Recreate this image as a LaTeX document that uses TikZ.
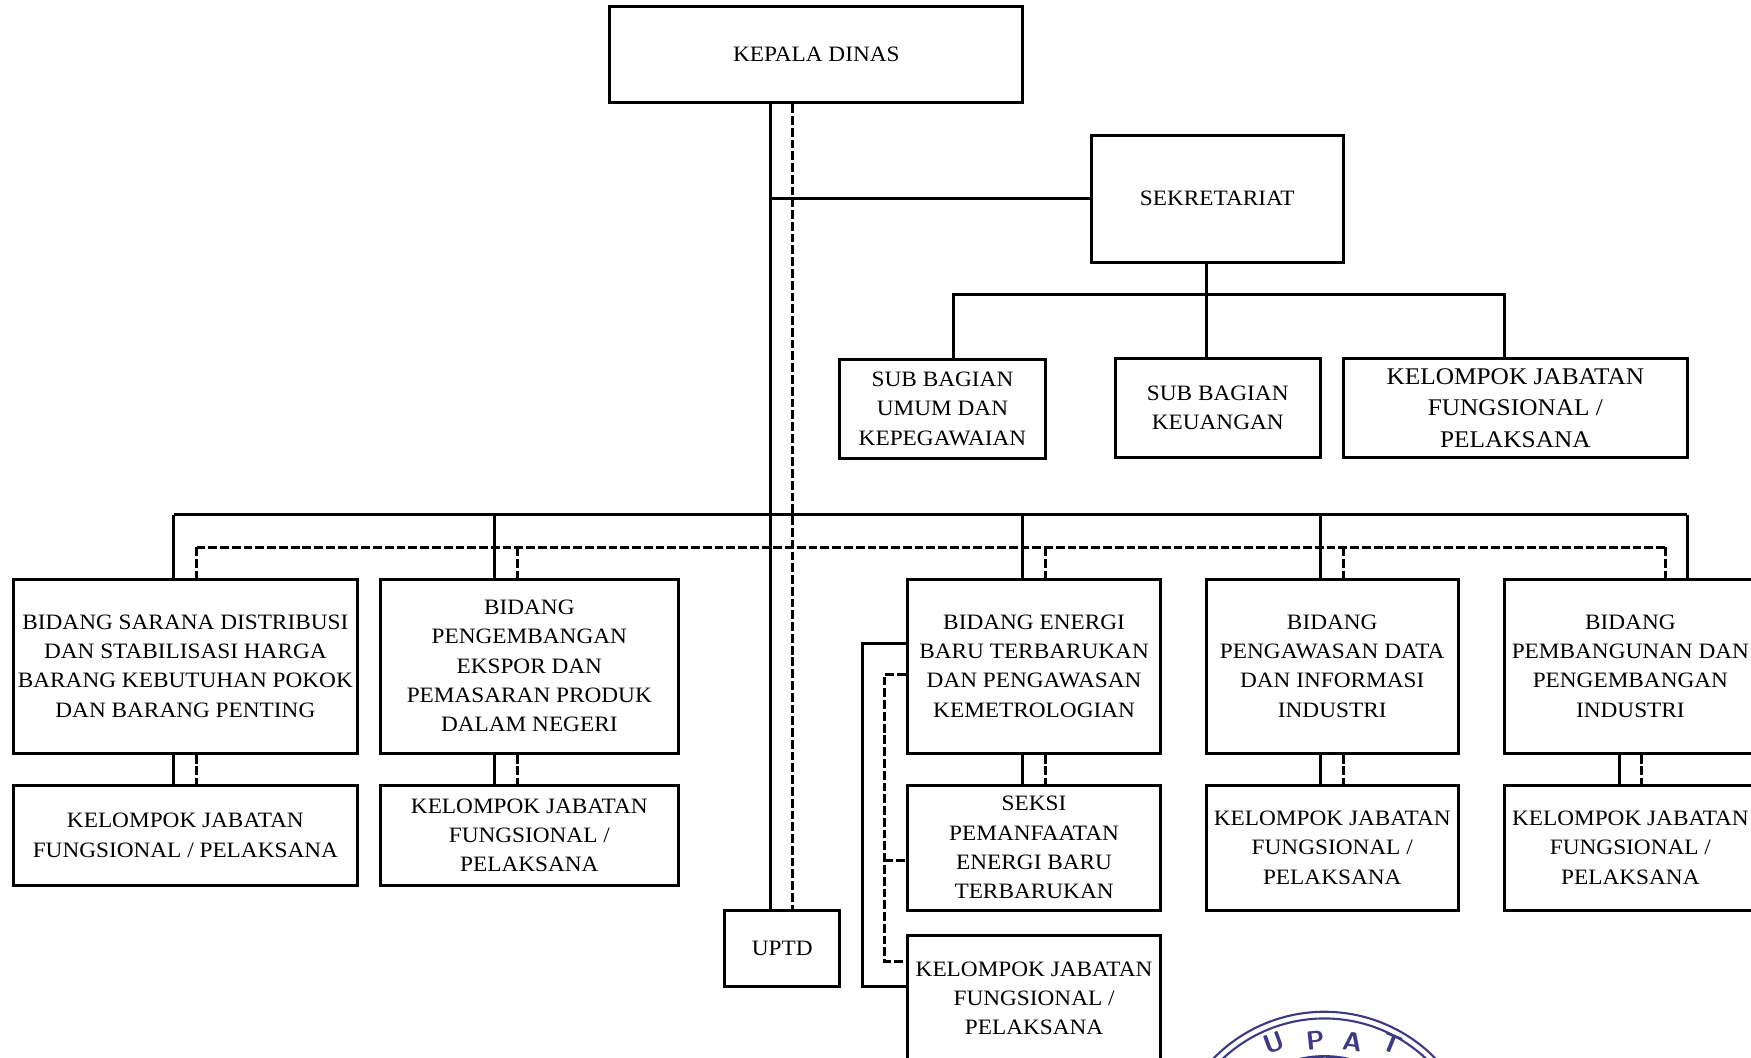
\documentclass[tikz,border=0pt]{standalone}
\usepackage{fontspec}
\setmainfont[FakeStretch=1.06]{Liberation Serif}
\usetikzlibrary{calc}
\definecolor{stempel}{HTML}{3B3A86}
\newcommand{\satuan}{0.022334cm}
\tikzset{
	kotak/.style 2 args = {
		draw, line width=1.7pt, inner sep=0pt, align=center,
		minimum width=#1*\satuan, minimum height=#2*\satuan,
		font=\fontsize{12.5}{16.7}\selectfont
	},
	garis/.style = {line width=1.7pt},
	putus/.style = {line width=1.7pt, dash pattern=on 5pt off 1.7pt},
	huruf/.style = {inner sep=0pt, font=\fontsize{15}{15}\sffamily\bfseries\selectfont},
}

\begin{document}
\begin{tikzpicture}[x=\satuan, y=-\satuan]
	\path[use as bounding box, clip] (0,0) rectangle (1568,947);
	% ====== Pimpinan ========
	\node[kotak={370}{86}] (kadis) at (731,49) {KEPALA DINAS};
	\node[kotak={226}{114}] (sekre) at (1090,178) {SEKRETARIAT};
	\node[kotak={184}{89}] (subum) at (844,366) {SUB BAGIAN\\UMUM DAN\\KEPEGAWAIAN};
	\node[kotak={184}{89}] (subku) at (1090.5,365.5) {SUB BAGIAN\\KEUANGAN};
	\node[kotak={308}{89}, font=\fontsize{13.6}{17.8}\selectfont] (ksek) at (1357,365.5) {KELOMPOK JABATAN\\FUNGSIONAL /\\PELAKSANA};
	\node[kotak={103}{68}] (uptd) at (700.5,849) {UPTD};
	% ====== Bidang ========
	\node[kotak={308}{156}] (bsd) at (166,596.5) {BIDANG SARANA DISTRIBUSI\\DAN STABILISASI HARGA\\BARANG KEBUTUHAN POKOK\\DAN BARANG PENTING};
	\node[kotak={267}{156}] (bpe) at (474,596.5) {BIDANG\\PENGEMBANGAN\\EKSPOR DAN\\PEMASARAN PRODUK\\DALAM NEGERI};
	\node[kotak={227}{156}] (bet) at (926,596.5) {BIDANG ENERGI\\BARU TERBARUKAN\\DAN PENGAWASAN\\KEMETROLOGIAN};
	\node[kotak={226}{156}] (bpd) at (1193,596.5) {BIDANG\\PENGAWASAN DATA\\DAN INFORMASI\\INDUSTRI};
	\node[kotak={226}{156}] (bpp) at (1460,596.5) {BIDANG\\PEMBANGUNAN DAN\\PENGEMBANGAN\\INDUSTRI};
	% ====== Kelompok ========
	\node[kotak={308}{90}] (ksd) at (166,748) {KELOMPOK JABATAN\\FUNGSIONAL / PELAKSANA};
	\node[kotak={267}{90}] (kpe) at (474,748) {KELOMPOK JABATAN\\FUNGSIONAL /\\PELAKSANA};
	\node[kotak={227}{112}] (sek) at (926,759) {SEKSI\\PEMANFAATAN\\ENERGI BARU\\TERBARUKAN};
	\node[kotak={226}{112}] (kpd) at (1193,759) {KELOMPOK JABATAN\\FUNGSIONAL /\\PELAKSANA};
	\node[kotak={226}{112}] (kpp) at (1460,759) {KELOMPOK JABATAN\\FUNGSIONAL /\\PELAKSANA};
	\node[kotak={227}{112}] (ket) at (926,894) {KELOMPOK JABATAN\\FUNGSIONAL /\\PELAKSANA};
	% ====== Titik ========
	\coordinate (A) at (690,178);
	\coordinate (B) at (710,178);
	\coordinate (C) at (1080,264);
	\coordinate (S1) at (155.5,461);
	\coordinate (S2) at (443,461);
	\coordinate (S3) at (915.5,461);
	\coordinate (S4) at (1182.5,461);
	\coordinate (S5) at (1511,461);
	\coordinate (D1) at (176,490);
	\coordinate (D2) at (463.5,490);
	\coordinate (D3) at (936,490);
	\coordinate (D4) at (1203,490);
	\coordinate (D5) at (1491,490);
	\coordinate (T1) at (854,264);
	\coordinate (T2) at (1347,264);
	\coordinate (P1) at (772,576);
	\coordinate (P2) at (772,883);
	\coordinate (Q1) at (792,604);
	\coordinate (Q2) at (792,861);
	\coordinate (Q3) at (792,771);
	\coordinate (K5) at (1450,703);
	\coordinate (L5) at (1470,703);
	% ====== Garis ========
	\draw[putus] (kadis.south -| B) -- (uptd.north -| B);
	\draw[putus] (D1) -- (D5);
	\foreach \i/\b in {1/bsd,2/bpe,3/bet,4/bpd,5/bpp} {\draw[putus] (D\i) -- (\b.north -| D\i);}
	\foreach \i/\b/\k in {1/bsd/ksd,2/bpe/kpe,3/bet/sek,4/bpd/kpd} {
		\draw[garis] (\b.south -| S\i) -- (\k.north -| S\i);
		\draw[putus] (\b.south -| D\i) -- (\k.north -| D\i);
	}
	\draw[garis] (bpp.south -| K5) -- (kpp.north -| K5);
	\draw[putus] (bpp.south -| L5) -- (kpp.north -| L5);
	\draw[garis] (kadis.south -| A) -- (uptd.north -| A);
	\draw[garis] (A) -- (sekre.west |- A);
	\draw[garis] (S1) -- (S5);
	\foreach \i/\b in {1/bsd,2/bpe,3/bet,4/bpd,5/bpp} {\draw[garis] (S\i) -- (\b.north -| S\i);}
	\draw[garis] (sekre.south -| C) -- (subku.north -| C);
	\draw[garis] (subum.north -| T1) -- (T1) -- (T2) -- (ksek.north -| T2);
	\draw[garis] (bet.west |- P1) -- (P1) -- (P2) -- (ket.west |- P2);
	\draw[putus] (bet.west |- Q1) -- (Q1) -- (Q2) -- (ket.west |- Q2);
	\draw[putus] (Q3) -- (sek.west |- Q3);
	% ====== Stempel ========
	\coordinate (O) at (1186,1045);
	\foreach \r/\t in {139/1.2pt,133/1.2pt,99/1.5pt} {
		\draw[stempel, line width=\t] (O) ++(-140:\r) arc[start angle=-140, end angle=-40, radius=\r];
	}
	\begin{scope}[stempel]
		\node[huruf, rotate=20] (hU) at (1141,934) {U};
		\node[huruf, rotate=6] (hP) at (1178,932) {P};
		\node[huruf, rotate=-8] (hA) at (1211,933) {A};
		\node[huruf, rotate=-22] (hT) at (1246,935) {T};
	\end{scope}
\end{tikzpicture}
\end{document}
